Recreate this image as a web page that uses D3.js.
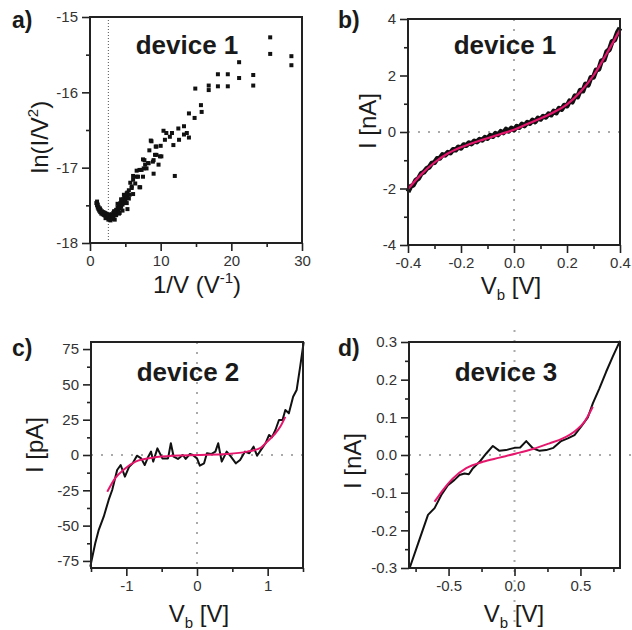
<!DOCTYPE html>
<html>
<head>
<meta charset="utf-8">
<script src="https://cdn.jsdelivr.net/npm/d3@7/dist/d3.min.js"></script>
<style>
    body { margin: 0; background: #fff; }
    svg { font-family: "Liberation Sans", Arial, sans-serif; }
</style>
</head>
<body>
<svg id="chart" width="632" height="630"></svg>
<script>
// a) ln(I/V^2) vs 1/V scatter, device 1
const aPoints = [
    [25.5,-15.27],[25.5,-15.49],[28.5,-15.52],[28.5,-15.64],[21.1,-15.60],[21.1,-15.81],
    [23.1,-15.77],[23.1,-15.91],[19.5,-15.76],[19.5,-15.92],[18.1,-15.76],[18.1,-15.92],
    [16.8,-15.91],[16.8,-15.97],[14.9,-15.95],[15.7,-16.17],[15.8,-16.26],[14.8,-16.34],
    [14.0,-16.28],[13.3,-16.45],[13.3,-16.56],[14.0,-16.60],[12.5,-16.48],[12.6,-16.63],
    [11.8,-16.70],[12.0,-17.11],[11.6,-16.54],[10.8,-16.54],[10.4,-16.51],[11.3,-16.59],
    [10.6,-16.63],[10.0,-16.71],[9.4,-16.72],[8.6,-16.64],[9.2,-16.83],[10.1,-16.85],
    [9.0,-16.90],[8.3,-16.94],[7.8,-16.96],[9.0,-17.08],[7.7,-16.90],[7.6,-17.01],
    [7.0,-17.03],[6.6,-17.12],[7.1,-17.26],[6.1,-17.16],[5.9,-17.25],[5.3,-17.36],
    [5.3,-17.55],[4.1,-17.61],[3.5,-17.69],
    [13.7,-16.54],[8.7,-16.65],[9.3,-16.72],[8.4,-16.77],[9.9,-16.85],[9.4,-16.83],
    [8.9,-16.92],[7.5,-16.89],[8.2,-16.94],[9.7,-16.96],[8.0,-17.01],[7.3,-17.03],
    [6.6,-17.04],[6.1,-17.11],[6.8,-17.12],[7.5,-17.12],[5.7,-17.20],[6.4,-17.21],
    [5.9,-17.27],[7.0,-17.26],[5.2,-17.34],[6.1,-17.35],[4.9,-17.41],[4.7,-17.47],
    [0.9,-17.47],[1.0,-17.50],[1.1,-17.53],[1.2,-17.55],[1.3,-17.57],[1.45,-17.59],
    [1.6,-17.61],[1.8,-17.62],[2.0,-17.63],[2.2,-17.64],[2.4,-17.65],[2.6,-17.66],
    [2.8,-17.66],[1.0,-17.45],[1.2,-17.52],[1.5,-17.56],[1.9,-17.59],[2.3,-17.61],
    [2.7,-17.62],[1.1,-17.49],[1.4,-17.54],[1.7,-17.58],[2.1,-17.60],[2.5,-17.63],
    [3.0,-17.68],[2.9,-17.63],[3.1,-17.62],[3.3,-17.60],[3.5,-17.58],[3.7,-17.56],
    [3.9,-17.53],[4.1,-17.50],[4.3,-17.47],[4.5,-17.45],[4.7,-17.42],[4.9,-17.39],
    [5.1,-17.37],[5.3,-17.33],[5.5,-17.30],[3.2,-17.65],[3.4,-17.63],[3.6,-17.61],
    [3.8,-17.59],[4.0,-17.57],[4.2,-17.54],[4.4,-17.52],[4.6,-17.49],[4.8,-17.46],
    [5.0,-17.43],[5.2,-17.40],[5.6,-17.36],[3.3,-17.66],[3.7,-17.63],[4.2,-17.60],
    [4.6,-17.57],[5.2,-17.47],[5.5,-17.41],[3.9,-17.48],[4.4,-17.42],[4.8,-17.36],
    [2.9,-17.70],[3.4,-17.58],[2.6,-17.69],[2.2,-17.67]
];
const aMarker = 2.6;

// b) device 1 I-V, measured and fit
const bV = [-0.40,-0.39,-0.38,-0.37,-0.36,-0.35,-0.34,-0.33,-0.32,-0.31,-0.30,-0.29,-0.28,-0.27,
    -0.26,-0.25,-0.24,-0.23,-0.22,-0.21,-0.20,-0.19,-0.18,-0.17,-0.16,-0.15,-0.14,-0.13,-0.12,
    -0.11,-0.10,-0.09,-0.08,-0.07,-0.06,-0.05,-0.04,-0.03,-0.02,-0.01,0.00,0.01,0.02,0.03,0.04,
    0.05,0.06,0.07,0.08,0.09,0.10,0.11,0.12,0.13,0.14,0.15,0.16,0.17,0.18,0.19,0.20,0.21,0.22,
    0.23,0.24,0.25,0.26,0.27,0.28,0.29,0.30,0.31,0.32,0.33,0.34,0.35,0.36,0.37,0.38,0.39,0.40];
const bI = [-2.12,-1.93,-1.88,-1.70,-1.64,-1.47,-1.42,-1.30,-1.24,-1.10,-1.08,-0.94,-0.93,-0.80,
    -0.82,-0.72,-0.74,-0.62,-0.64,-0.53,-0.57,-0.45,-0.48,-0.38,-0.42,-0.32,-0.35,-0.26,-0.29,
    -0.19,-0.23,-0.12,-0.16,-0.05,-0.10,0.02,-0.03,0.10,0.03,0.14,0.07,0.20,0.16,0.28,0.22,
    0.34,0.30,0.42,0.36,0.49,0.45,0.56,0.52,0.64,0.60,0.74,0.68,0.84,0.80,0.95,0.92,1.10,1.06,
    1.28,1.24,1.48,1.45,1.70,1.66,1.93,1.94,2.20,2.22,2.52,2.55,2.84,2.92,3.20,3.26,3.52,3.68];
const bFitV = [-0.40,-0.35,-0.30,-0.25,-0.20,-0.15,-0.10,-0.05,0.00,0.05,0.10,0.15,0.20,0.25,0.30,0.35,0.40];
const bFitI = [-2.02,-1.50,-1.08,-0.76,-0.54,-0.37,-0.22,-0.07,0.08,0.28,0.48,0.70,0.98,1.42,2.00,2.78,3.62];

// c) device 2 I-V (pA)
const cV = [-1.51,-1.44,-1.39,-1.32,-1.25,-1.20,-1.165,-1.13,-1.08,-1.02,-0.96,-0.91,-0.85,-0.79,
    -0.74,-0.69,-0.65,-0.62,-0.56,-0.49,-0.41,-0.37,-0.33,-0.27,-0.20,-0.16,-0.10,-0.06,0.00,
    0.04,0.10,0.14,0.20,0.26,0.30,0.35,0.42,0.48,0.55,0.61,0.68,0.74,0.80,0.85,0.91,0.97,
    1.02,1.06,1.11,1.16,1.21,1.25,1.30,1.36,1.41,1.46,1.51];
const cI = [-79,-62.5,-53,-43.7,-31.8,-24.8,-17.7,-10.6,-7.1,-15.3,-8.3,-5.9,-0.5,-2.4,
    -7.1,-1.2,2.4,-4.7,4.7,-2.4,-2.4,8.3,-1.2,-2.8,0,-2.8,0.7,0,-2.4,
    -7.5,-5.9,1.2,0.7,2.4,8.3,-4.7,2.4,-1.2,-5.9,-3.5,2.4,1.2,5.9,-0.5,4.0,8.3,
    14.2,12.5,17.7,24.8,24.8,31.8,29.5,41.3,46,62.5,80];
const cFitV = [-1.27,-1.16,-1.03,-0.87,-0.63,-0.34,0.04,0.42,0.71,0.90,0.97,1.09,1.18,1.25];
const cFitI = [-26,-16.5,-10.1,-4.7,-1.9,-0.5,0,0.7,2.4,5,8.3,14.2,20.1,27];

// d) device 3 I-V (nA)
const dV = [-0.795,-0.73,-0.656,-0.606,-0.555,-0.505,-0.455,-0.417,-0.379,-0.346,-0.315,-0.265,
    -0.214,-0.164,-0.114,-0.065,0.00,0.043,0.089,0.139,0.19,0.24,0.295,0.354,0.404,0.455,
    0.505,0.556,0.594,0.644,0.695,0.745,0.80];
const dI = [-0.30,-0.234,-0.159,-0.141,-0.106,-0.080,-0.066,-0.053,-0.049,-0.051,-0.035,-0.018,
    0.004,0.024,0.011,0.013,0.019,0.020,0.037,0.018,0.011,0.013,0.019,0.037,0.044,0.053,
    0.075,0.100,0.137,0.177,0.221,0.261,0.303];
const dFitV = [-0.606,-0.543,-0.467,-0.366,-0.24,-0.114,0.013,0.139,0.265,0.366,0.467,0.53,0.594];
const dFitI = [-0.124,-0.093,-0.062,-0.035,-0.018,-0.007,0.004,0.016,0.031,0.044,0.066,0.088,0.128];

const ink = "#222";
const fitColor = "#e5176d";
const svg = d3.select("#chart");

function panel(p) {
    let x = d3.scaleLinear().domain(p.xDomain).range([p.left, p.right]);
    let y = d3.scaleLinear().domain(p.yDomain).range([p.bottom, p.top]);
    let g = svg.append("g");

    // dotted guides
    if (p.guides) {
        let gx = p.guides.x, gy = p.guides.y;
        if (gx !== undefined) {
            g.append("line")
                .attr("x1", x(gx)).attr("x2", x(gx))
                .attr("y1", p.guides.vTop || p.top).attr("y2", p.guides.vBottom || p.bottom)
                .attr("stroke", p.guides.color).attr("stroke-width", p.guides.width)
                .attr("stroke-dasharray", p.guides.dash);
        }
        if (gy !== undefined) {
            g.append("line")
                .attr("x1", p.left).attr("x2", p.guides.hRight || p.right)
                .attr("y1", y(gy)).attr("y2", y(gy))
                .attr("stroke", p.guides.color).attr("stroke-width", p.guides.width)
                .attr("stroke-dasharray", p.guides.dash);
        }
    }

    let axes = g.append("g");
    axes.append("g").attr("transform", "translate(0," + p.bottom + ")")
        .call(d3.axisBottom(x).tickValues(p.xMinor).tickSize(4).tickFormat(""));
    axes.append("g").attr("transform", "translate(0," + p.bottom + ")")
        .call(d3.axisBottom(x).tickValues(p.xMajor).tickSize(8).tickPadding(4).tickFormat(p.xFormat));
    axes.append("g").attr("transform", "translate(" + p.left + ",0)")
        .call(d3.axisLeft(y).tickValues(p.yMinor).tickSize(4).tickFormat(""));
    axes.append("g").attr("transform", "translate(" + p.left + ",0)")
        .call(d3.axisLeft(y).tickValues(p.yMajor).tickSize(8).tickPadding(4).tickFormat(p.yFormat));
    axes.selectAll(".domain").remove();
    axes.selectAll(".tick line").attr("stroke", ink).attr("stroke-width", 1.6);
    axes.selectAll(".tick text").attr("fill", "#333").style("font-size", "15px")
        .style("font-family", "'Liberation Sans', Arial, sans-serif");

    return {x: x, y: y, g: g, p: p};
}

function frame(pn) {
    let p = pn.p;
    pn.g.append("rect")
        .attr("x", p.left).attr("y", p.top)
        .attr("width", p.right - p.left).attr("height", p.bottom - p.top)
        .attr("fill", "none").attr("stroke", ink).attr("stroke-width", 2);
}

function curve(pn, xs, ys, color, width, smooth) {
    let line = d3.line()
        .x(function (d) { return pn.x(d[0]); })
        .y(function (d) { return pn.y(d[1]); });
    if (smooth) line.curve(d3.curveMonotoneX);
    pn.g.append("path")
        .datum(xs.map(function (v, i) { return [v, ys[i]]; }))
        .attr("d", line)
        .attr("fill", "none").attr("stroke", color).attr("stroke-width", width)
        .attr("stroke-linejoin", "round");
}

function label(txt, xPos, yPos, size, weight, anchor) {
    return svg.append("text")
        .attr("x", xPos).attr("y", yPos)
        .attr("text-anchor", anchor || "middle")
        .attr("font-size", size).attr("font-weight", weight || "normal")
        .attr("fill", "#1a1a1a")
        .text(txt);
}

function vbTitle(xPos, yPos) {
    let t = label("V", xPos, yPos, 24);
    t.append("tspan").attr("font-size", 15).attr("dy", 6).text("b");
    t.append("tspan").attr("dy", -6).text(" [V]");
}

function yTitle(xPos, yPos) {
    return svg.append("text")
        .attr("transform", "translate(" + xPos + "," + yPos + ") rotate(-90)")
        .attr("text-anchor", "middle").attr("font-size", 24).attr("fill", "#1a1a1a");
}

let fmt1 = function (d) { return d.toFixed(1); };
let fmt0 = function (d) { return String(d); };

// ---- panel a
let pa = panel({
    left: 90, right: 302, top: 17, bottom: 243,
    xDomain: [0, 30], yDomain: [-18, -15],
    xMajor: [0, 10, 20, 30], xMinor: [5, 15, 25],
    yMajor: [-18, -17, -16, -15], yMinor: [-17.5, -16.5, -15.5],
    xFormat: fmt0, yFormat: fmt0,
    guides: {x: aMarker, color: "#555", width: 1, dash: "1 2"}
});
pa.g.selectAll("rect.pt")
    .data(aPoints)
    .enter()
    .append("rect")
    .attr("class", "pt")
    .attr("x", function (d) { return pa.x(d[0]) - 2; })
    .attr("y", function (d) { return pa.y(d[1]) - 2; })
    .attr("width", 4).attr("height", 4)
    .attr("fill", "#111");
frame(pa);

// ---- panel b
let pb = panel({
    left: 408, right: 620, top: 19, bottom: 245,
    xDomain: [-0.4, 0.4], yDomain: [-4, 4],
    xMajor: [-0.4, -0.2, 0, 0.2, 0.4], xMinor: [-0.3, -0.1, 0.1, 0.3],
    yMajor: [-4, -2, 0, 2, 4], yMinor: [-3, -1, 1, 3],
    xFormat: fmt1, yFormat: fmt0,
    guides: {x: 0, y: 0, color: "#aaa", width: 2, dash: "2 8"}
});
curve(pb, bV, bI, "#111", 5, false);
curve(pb, bFitV, bFitI, fitColor, 2.2, true);
frame(pb);

// ---- panel c
let pc = panel({
    left: 91, right: 303, top: 342, bottom: 568,
    xDomain: [-1.5, 1.5], yDomain: [-80, 80],
    xMajor: [-1, 0, 1], xMinor: [-1.5, -0.5, 0.5, 1.5],
    yMajor: [-75, -50, -25, 0, 25, 50, 75], yMinor: [-62.5, -37.5, -12.5, 12.5, 37.5, 62.5],
    xFormat: fmt0, yFormat: fmt0,
    guides: {x: 0, y: 0, color: "#aaa", width: 2, dash: "2 8"}
});
curve(pc, cV, cI, "#111", 2, false);
curve(pc, cFitV, cFitI, fitColor, 2, true);
frame(pc);

// ---- panel d
let pd = panel({
    left: 409, right: 620, top: 342, bottom: 568,
    xDomain: [-0.8, 0.8], yDomain: [-0.3, 0.3],
    xMajor: [-0.5, 0, 0.5], xMinor: [-0.75, -0.25, 0.25, 0.75],
    yMajor: [-0.3, -0.2, -0.1, 0, 0.1, 0.2, 0.3], yMinor: [-0.25, -0.15, -0.05, 0.05, 0.15, 0.25],
    xFormat: fmt1, yFormat: fmt1,
    guides: {x: 0, y: 0, color: "#aaa", width: 2, dash: "2 8", vTop: 330, vBottom: 630, hRight: 632}
});
curve(pd, dV, dI, "#111", 2, false);
curve(pd, dFitV, dFitI, fitColor, 2, true);
frame(pd);

// ---- texts
label("a)", 12, 28, 23, "bold", "start");
label("b)", 338, 28, 23, "bold", "start");
label("c)", 12, 356, 23, "bold", "start");
label("d)", 338, 356, 23, "bold", "start");

label("device 1", 187, 54, 26, "bold");
label("device 1", 505, 54, 26, "bold");
label("device 2", 188, 381, 26, "bold");
label("device 3", 506, 381, 26, "bold");

let ax = label("1/V (V", 197, 293, 24);
ax.append("tspan").attr("font-size", 15).attr("dy", -10).text("-1");
ax.append("tspan").attr("dy", 10).text(")");
vbTitle(511, 294);
vbTitle(199, 622);
vbTitle(514, 622);

let ay = yTitle(48, 137);
ay.append("tspan").text("ln(I/V");
ay.append("tspan").attr("font-size", 15).attr("dy", -10).text("2");
ay.append("tspan").attr("dy", 10).text(")");
yTitle(376, 121).text("I [nA]");
yTitle(43, 445).text("I [pA]");
yTitle(361, 461).text("I [nA]");
</script>
</body>
</html>
